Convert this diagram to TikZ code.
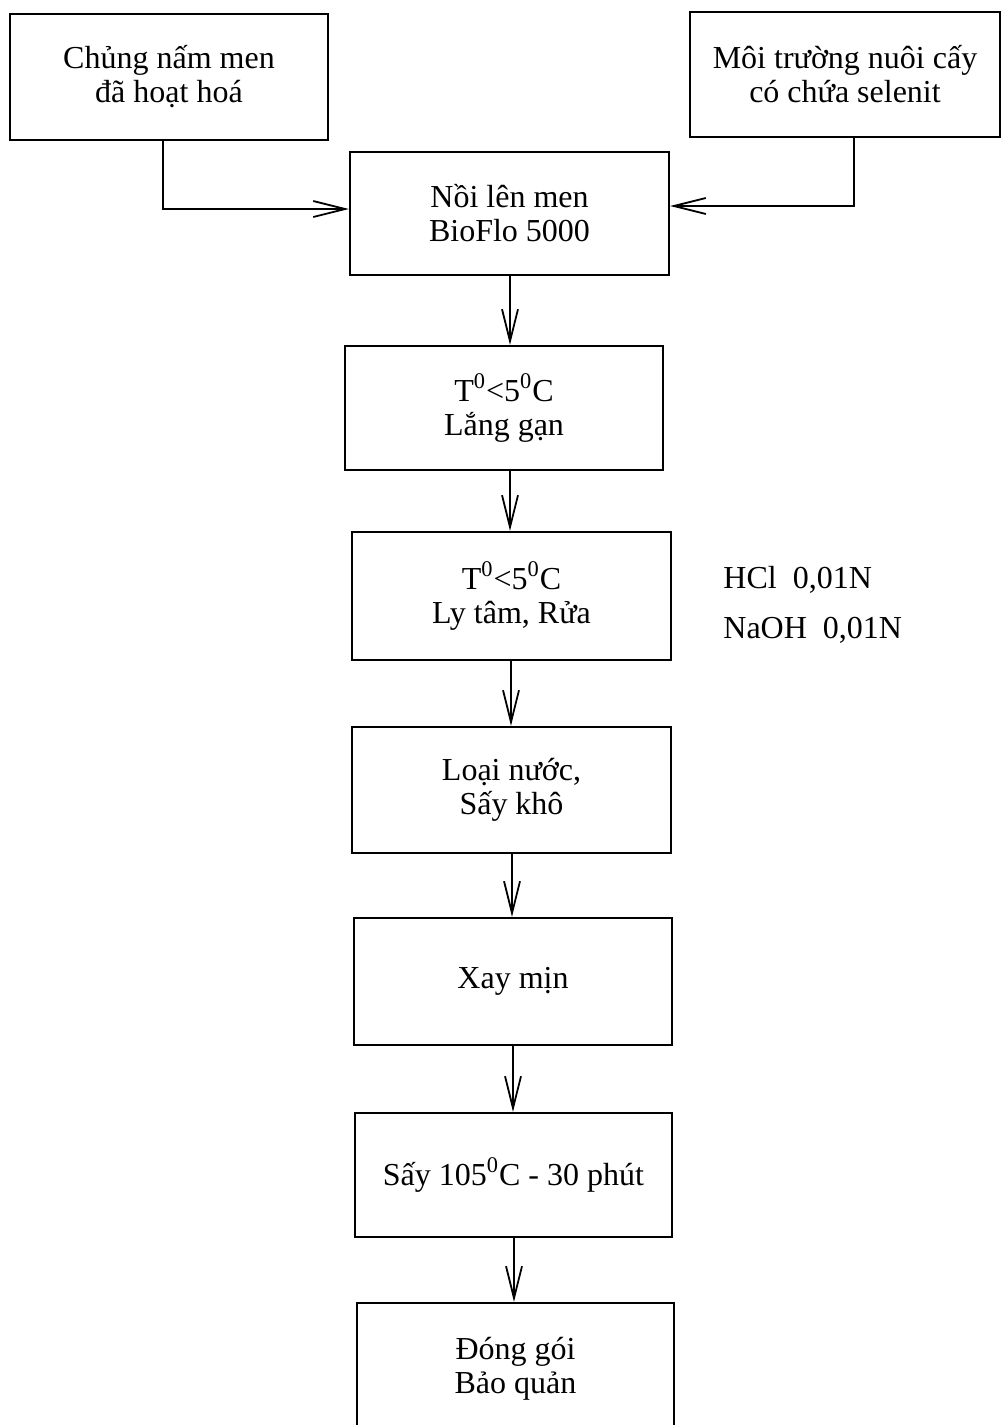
\documentclass[tikz,border=0pt]{standalone}
\usepackage{fontspec}
\setmainfont{Liberation Serif}
\usetikzlibrary{arrows.meta}
\begin{document}
\begin{tikzpicture}[x=0.5pt,y=-0.5pt,
  box/.style={draw, line width=1.1pt, rectangle, align=center, inner sep=0pt,
    font=\fontsize{16}{17}\selectfont},
  conn/.style={line width=1.3pt, -{Straight Barb[length=16pt,width=8pt,line width=0.9pt]}},
  side/.style={anchor=west, inner sep=0pt, font=\fontsize{16}{17}\selectfont}]
\useasboundingbox (0,0) rectangle (1001,1425);
\clip (0,0) rectangle (1001,1425);
\node[box, minimum width=159pt, minimum height=63pt] (A) at (169,77) {Chủng nấm men\\đã hoạt hoá};
\node[box, minimum width=155pt, minimum height=62.5pt] (B) at (845,74.5) {Môi trường nuôi cấy\\có chứa selenit};
\node[box, minimum width=159.5pt, minimum height=61.5pt] (C) at (509.5,213.5) {Nồi lên men\\BioFlo 5000};
\node[box, minimum width=159pt, minimum height=62pt] (D) at (504,408) {T\textsuperscript{0}<5\textsuperscript{0}C\\Lắng gạn};
\node[box, minimum width=159.5pt, minimum height=64pt] (E) at (511.5,596) {T\textsuperscript{0}<5\textsuperscript{0}C\\Ly tâm, Rửa};
\node[box, minimum width=159.5pt, minimum height=63pt] (F) at (511.5,790) {Loại nước,\\Sấy khô};
\node[box, minimum width=159pt, minimum height=63.5pt] (G) at (513,981.5) {Xay mịn};
\node[box, minimum width=158.5pt, minimum height=62pt] (H) at (513.5,1175) {Sấy 105\textsuperscript{0}C - 30 phút};
\node[box, minimum width=158.5pt, minimum height=66pt] (I) at (515.5,1369) {Đóng gói\\Bảo quản};
\node[side] (s1) at (723,580) {HCl\ \ 0,01N};
\node[side] (s2) at (723,630) {NaOH\ \ 0,01N};
\coordinate (a1) at (163,140);
\coordinate (b1) at (854,137);
\coordinate (x1) at (510,0);
\coordinate (x2) at (510,0);
\coordinate (x3) at (511,0);
\coordinate (x4) at (512,0);
\coordinate (x5) at (513,0);
\coordinate (x6) at (514,0);
\draw[conn] (A.south -| a1) |- (C.west |- 0,209);
\draw[conn] (B.south -| b1) |- (C.east |- 0,206);
\draw[conn] (C.south -| x1) -- (D.north -| x1);
\draw[conn] (D.south -| x2) -- (E.north -| x2);
\draw[conn] (E.south -| x3) -- (F.north -| x3);
\draw[conn] (F.south -| x4) -- (G.north -| x4);
\draw[conn] (G.south -| x5) -- (H.north -| x5);
\draw[conn] (H.south -| x6) -- (I.north -| x6);
\end{tikzpicture}
\end{document}
